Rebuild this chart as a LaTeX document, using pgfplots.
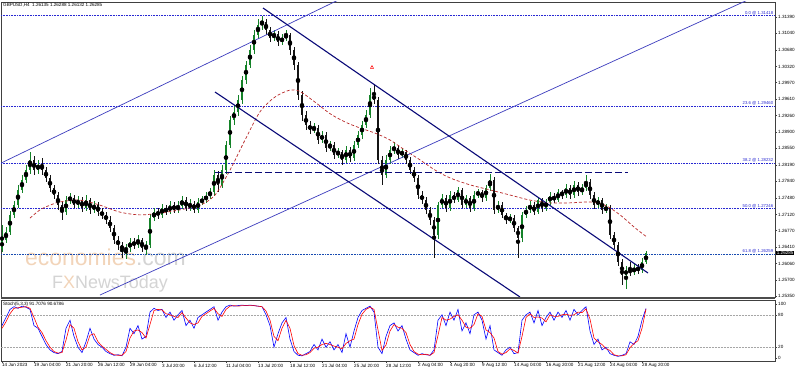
\documentclass[border=0pt]{standalone}
\usepackage{pgfplots}
\pgfplotsset{compat=1.18}
\usepackage{pgfplotstable}
\usepackage{fontspec}
\setmainfont{Liberation Sans}
\definecolor{chanD}{RGB}{10,10,120}
\definecolor{chanA}{RGB}{60,60,190}
\definecolor{fibc}{RGB}{40,40,210}
\definecolor{maC}{RGB}{185,40,40}
\definecolor{upc}{RGB}{20,130,40}
\definecolor{dnc}{RGB}{20,20,20}
\definecolor{wmO}{RGB}{242,212,185}
\definecolor{wmG}{RGB}{212,212,212}
\newcommand{\sm}{\fontsize{4.6}{5}\selectfont}

\pgfplotstableread{
b o h l c
0 1.2638 1.2690 1.2630 1.2657
2 1.2657 1.2685 1.2650 1.2674
4 1.2674 1.2720 1.2668 1.2711
6 1.2711 1.2742 1.2704 1.2732
8 1.2732 1.2776 1.2725 1.2765
10 1.2765 1.2797 1.2758 1.2786
12 1.2786 1.2819 1.2780 1.2808
14 1.2808 1.2848 1.2800 1.2830
16 1.2830 1.2838 1.2797 1.2808
18 1.2808 1.2830 1.2800 1.2819
20 1.2819 1.2835 1.2798 1.2808
22 1.2808 1.2815 1.2782 1.2791
24 1.2791 1.2798 1.2760 1.2769
26 1.2769 1.2776 1.2745 1.2754
28 1.2754 1.2760 1.2722 1.2732
30 1.2732 1.2740 1.2700 1.2717
32 1.2717 1.2752 1.2710 1.2743
34 1.2743 1.2758 1.2735 1.2748
36 1.2748 1.2755 1.2725 1.2732
38 1.2732 1.2752 1.2726 1.2743
40 1.2743 1.2750 1.2718 1.2726
42 1.2726 1.2755 1.2720 1.2743
44 1.2743 1.2748 1.2712 1.2722
46 1.2722 1.2742 1.2715 1.2732
48 1.2732 1.2738 1.2708 1.2717
50 1.2717 1.2725 1.2702 1.2711
52 1.2711 1.2718 1.2692 1.2700
54 1.2700 1.2708 1.2675 1.2683
56 1.2683 1.2690 1.2648 1.2657
58 1.2657 1.2665 1.2636 1.2646
60 1.2646 1.2652 1.2618 1.2635
62 1.2635 1.2648 1.2615 1.2639
64 1.2639 1.2662 1.2630 1.2652
66 1.2652 1.2660 1.2638 1.2646
68 1.2646 1.2668 1.2640 1.2657
70 1.2657 1.2662 1.2630 1.2639
72 1.2639 1.2655 1.2625 1.2646
74 1.2646 1.2712 1.2640 1.2704
76 1.2704 1.2725 1.2698 1.2717
78 1.2717 1.2726 1.2703 1.2711
80 1.2711 1.2735 1.2705 1.2726
82 1.2726 1.2733 1.2710 1.2717
84 1.2717 1.2740 1.2712 1.2732
86 1.2732 1.2738 1.2715 1.2722
88 1.2722 1.2740 1.2716 1.2730
90 1.2730 1.2752 1.2724 1.2743
92 1.2743 1.2750 1.2720 1.2726
94 1.2726 1.2745 1.2720 1.2735
96 1.2735 1.2742 1.2715 1.2722
98 1.2722 1.2748 1.2716 1.2739
100 1.2739 1.2752 1.2732 1.2743
102 1.2743 1.2760 1.2736 1.2752
104 1.2752 1.2770 1.2745 1.2760
106 1.2760 1.2808 1.2752 1.2797
108 1.2797 1.2805 1.2760 1.2776
110 1.2776 1.2820 1.2770 1.2808
112 1.2808 1.2870 1.2800 1.2862
114 1.2862 1.2925 1.2855 1.2916
116 1.2916 1.2948 1.2905 1.2934
118 1.2934 1.2970 1.2925 1.2960
120 1.2960 1.3012 1.2952 1.3003
122 1.3003 1.3045 1.2995 1.3035
124 1.3035 1.3078 1.3028 1.3068
126 1.3068 1.3110 1.3060 1.3100
128 1.3100 1.3135 1.3092 1.3122
130 1.3122 1.3142 1.3112 1.3128
132 1.3128 1.3135 1.3100 1.3111
134 1.3111 1.3118 1.3085 1.3094
136 1.3094 1.3112 1.3088 1.3102
138 1.3102 1.3108 1.3076 1.3085
140 1.3085 1.3102 1.3078 1.3094
142 1.3094 1.3112 1.3088 1.3100
144 1.3100 1.3105 1.3058 1.3068
146 1.3068 1.3075 1.3025 1.3035
148 1.3035 1.3042 1.2960 1.2970
150 1.2970 1.2978 1.2915 1.2927
152 1.2927 1.2935 1.2895 1.2905
154 1.2905 1.2915 1.2885 1.2895
156 1.2895 1.2910 1.2888 1.2899
158 1.2899 1.2905 1.2865 1.2873
160 1.2873 1.2892 1.2866 1.2884
162 1.2884 1.2890 1.2848 1.2856
164 1.2856 1.2872 1.2850 1.2862
166 1.2862 1.2868 1.2832 1.2841
168 1.2841 1.2856 1.2835 1.2847
170 1.2847 1.2852 1.2820 1.2830
172 1.2830 1.2860 1.2824 1.2851
174 1.2851 1.2858 1.2826 1.2834
176 1.2834 1.2870 1.2828 1.2862
178 1.2862 1.2892 1.2855 1.2884
180 1.2884 1.2914 1.2876 1.2905
182 1.2905 1.2938 1.2898 1.2927
184 1.2927 1.2985 1.2920 1.2970
186 1.2970 1.2995 1.2950 1.2960
188 1.2960 1.2966 1.2822 1.2830
190 1.2830 1.2838 1.2776 1.2797
192 1.2797 1.2840 1.2790 1.2830
194 1.2830 1.2860 1.2822 1.2851
196 1.2851 1.2868 1.2842 1.2856
198 1.2856 1.2862 1.2832 1.2841
200 1.2841 1.2856 1.2834 1.2847
202 1.2847 1.2852 1.2822 1.2830
204 1.2830 1.2836 1.2800 1.2808
206 1.2808 1.2815 1.2782 1.2791
208 1.2791 1.2798 1.2745 1.2754
210 1.2754 1.2762 1.2735 1.2743
212 1.2743 1.2750 1.2712 1.2722
214 1.2722 1.2728 1.2690 1.2700
216 1.2700 1.2706 1.2618 1.2668
218 1.2668 1.2740 1.2660 1.2732
220 1.2732 1.2756 1.2725 1.2748
222 1.2748 1.2754 1.2718 1.2726
224 1.2726 1.2762 1.2720 1.2754
226 1.2754 1.2760 1.2736 1.2743
228 1.2743 1.2772 1.2738 1.2765
230 1.2765 1.2770 1.2725 1.2732
232 1.2732 1.2755 1.2726 1.2748
234 1.2748 1.2752 1.2718 1.2726
236 1.2726 1.2762 1.2720 1.2754
238 1.2754 1.2768 1.2748 1.2760
240 1.2760 1.2765 1.2740 1.2748
242 1.2748 1.2776 1.2742 1.2769
244 1.2769 1.2800 1.2762 1.2786
246 1.2786 1.2792 1.2714 1.2722
248 1.2722 1.2740 1.2716 1.2732
250 1.2732 1.2738 1.2704 1.2711
252 1.2711 1.2716 1.2692 1.2700
254 1.2700 1.2712 1.2694 1.2704
256 1.2704 1.2710 1.2675 1.2683
258 1.2683 1.2688 1.2618 1.2661
260 1.2661 1.2718 1.2652 1.2711
262 1.2711 1.2730 1.2705 1.2722
264 1.2722 1.2740 1.2716 1.2732
266 1.2732 1.2738 1.2710 1.2717
268 1.2717 1.2750 1.2712 1.2743
270 1.2743 1.2748 1.2718 1.2726
272 1.2726 1.2746 1.2720 1.2739
274 1.2739 1.2760 1.2732 1.2752
276 1.2752 1.2758 1.2736 1.2743
278 1.2743 1.2768 1.2738 1.2760
280 1.2760 1.2766 1.2746 1.2754
282 1.2754 1.2778 1.2748 1.2769
284 1.2769 1.2775 1.2746 1.2754
286 1.2754 1.2784 1.2748 1.2776
288 1.2776 1.2782 1.2752 1.2760
290 1.2760 1.2778 1.2754 1.2769
292 1.2769 1.2798 1.2762 1.2782
294 1.2782 1.2788 1.2746 1.2754
296 1.2754 1.2760 1.2724 1.2732
298 1.2732 1.2750 1.2726 1.2743
300 1.2743 1.2748 1.2714 1.2722
302 1.2722 1.2734 1.2716 1.2726
304 1.2726 1.2732 1.2660 1.2668
306 1.2668 1.2675 1.2638 1.2646
308 1.2646 1.2652 1.2600 1.2609
310 1.2609 1.2615 1.2560 1.2581
312 1.2581 1.2600 1.2550 1.2592
314 1.2592 1.2610 1.2578 1.2587
316 1.2587 1.2605 1.2580 1.2596
318 1.2596 1.2604 1.2584 1.2592
320 1.2592 1.2618 1.2586 1.2609
322 1.2609 1.2632 1.2604 1.2628
}\candles

\pgfplotstableread{
b k d
0 60 55
2 75 67
4 90 82
6 95 92
8 92 93
10 96 94
12 94 95
14 90 92
16 60 75
18 55 57
20 40 47
22 25 32
24 15 20
26 10 12
28 8 9
30 12 10
32 55 33
34 70 62
36 40 55
38 20 30
40 10 15
42 30 20
44 55 42
46 35 45
48 25 30
50 20 22
52 12 16
54 8 10
56 5 6
58 6 5
60 4 5
62 20 12
64 55 37
66 45 50
68 60 52
70 35 47
72 40 37
74 85 62
76 92 88
78 88 90
80 90 89
82 75 82
84 85 80
86 70 77
88 80 75
90 88 84
92 60 74
94 70 65
96 55 62
98 75 65
100 80 77
102 85 82
104 90 87
106 95 92
108 70 82
110 85 77
112 95 90
114 98 96
116 96 97
118 97 96
120 98 97
122 97 97
124 98 97
126 97 97
128 96 96
130 95 95
132 80 87
134 60 70
136 20 40
138 45 32
140 65 55
142 75 70
144 35 55
146 12 23
148 5 8
150 4 5
152 8 6
154 12 10
156 25 18
158 15 20
160 35 25
162 20 27
164 30 25
166 15 22
168 25 20
170 10 17
172 45 27
174 20 32
176 50 35
178 75 62
180 88 81
182 92 90
184 96 94
186 85 90
188 20 52
190 8 14
192 40 24
194 60 50
196 65 62
198 50 57
200 60 55
202 35 47
204 15 25
206 10 12
208 5 7
210 8 6
212 6 7
214 5 5
216 15 10
218 70 42
220 80 75
222 60 70
224 85 72
226 70 77
228 90 80
230 50 70
232 65 57
234 45 55
236 80 62
238 85 82
240 70 77
242 35 52
244 60 47
246 15 37
248 10 12
250 5 7
252 15 10
254 20 17
256 8 14
258 10 9
260 70 40
262 80 75
264 85 82
266 65 75
268 88 76
270 60 74
272 75 67
274 85 80
276 70 77
278 85 77
280 75 80
282 88 81
284 70 79
286 90 80
288 80 85
290 88 84
292 95 91
294 50 72
296 25 37
298 35 30
300 15 25
302 20 17
304 8 14
306 5 6
308 3 4
310 5 4
312 8 6
314 30 19
316 25 27
318 40 32
320 70 55
322 91.7 90.7
}\stoch

\begin{document}
\begin{tikzpicture}
\useasboundingbox (0,0) rectangle (798bp,-372bp);
\fill[white] (0,0) rectangle (798bp,-372bp);
\begin{axis}[
  at={(1bp,-2bp)}, anchor=north west, scale only axis,
  width=774bp, height=295bp,
  xmin=-0.5, xmax=386.5, ymin=1.25334, ymax=1.31715,
  xtick=\empty,
  ytick={1.2535,1.257,1.2606,1.2641,1.2677,1.2712,1.2748,1.2784,1.2819,1.2855,1.289,1.2926,1.2961,1.2997,1.3032,1.3068,1.3104,1.3139},
  ytick pos=right, yticklabel pos=right, tick align=outside,
  major tick length=2bp, scaled y ticks=false,
  yticklabel style={font=\sm, anchor=west, inner sep=1bp,
    /pgf/number format/.cd, fixed, fixed zerofill, precision=5, assume math mode=true},
  axis line style={black!75, line width=0.5bp},
  tick style={black!75, line width=0.4bp},
]
% watermark
\node[anchor=west, inner sep=0, font=\fontsize{23}{23}\selectfont] at (axis cs:11.5,1.2619) {\textcolor{wmO}{economies}\textcolor{wmG}{.com}};
\node[anchor=west, inner sep=0, font=\fontsize{18}{18}\selectfont] at (axis cs:25,1.2561) {\textcolor{wmG}{F}\textcolor{wmO}{X}\textcolor{wmG}{NewsToday}};
% fibonacci levels
\addplot[fibc, densely dotted, line width=0.6bp] coordinates {(-0.5,1.31418) (386.5,1.31418)};
\addplot[fibc, densely dotted, line width=0.6bp] coordinates {(-0.5,1.29460) (386.5,1.29460)};
\addplot[fibc, densely dotted, line width=0.6bp] coordinates {(-0.5,1.28232) (386.5,1.28232)};
\addplot[fibc, densely dotted, line width=0.6bp] coordinates {(-0.5,1.27246) (386.5,1.27246)};
\addplot[fibc!60!teal, densely dotted, line width=0.6bp] coordinates {(-0.5,1.26259) (386.5,1.26259)};
% candles: wicks and bodies
\addplot[only marks, mark=none, forget plot,
  restrict expr to domain={\thisrow{c}-\thisrow{o}}{0:1},
  error bars/.cd, y dir=both, y explicit, error mark=none,
  error bar style={line width=0.6bp, upc}]
  table[x=b, y expr={(\thisrow{h}+\thisrow{l})/2}, y error expr={(\thisrow{h}-\thisrow{l})/2}] {\candles};
\addplot[only marks, mark=none, forget plot,
  restrict expr to domain={\thisrow{c}-\thisrow{o}}{-1:-0.00001},
  error bars/.cd, y dir=both, y explicit, error mark=none,
  error bar style={line width=0.6bp, dnc}]
  table[x=b, y expr={(\thisrow{h}+\thisrow{l})/2}, y error expr={(\thisrow{h}-\thisrow{l})/2}] {\candles};
\addplot[only marks, mark=none, forget plot,
  restrict expr to domain={\thisrow{c}-\thisrow{o}}{0:1},
  error bars/.cd, y dir=both, y explicit, error mark=none,
  error bar style={line width=2.6bp, upc}]
  table[x=b, y expr={(\thisrow{o}+\thisrow{c})/2}, y error expr={max(abs(\thisrow{c}-\thisrow{o})/2,0.00004)}] {\candles};
\addplot[only marks, mark=none, forget plot,
  restrict expr to domain={\thisrow{c}-\thisrow{o}}{-1:-0.00001},
  error bars/.cd, y dir=both, y explicit, error mark=none,
  error bar style={line width=2.6bp, dnc}]
  table[x=b, y expr={(\thisrow{o}+\thisrow{c})/2}, y error expr={max(abs(\thisrow{c}-\thisrow{o})/2,0.00004)}] {\candles};
% moving average
\addplot[maC, line width=0.7bp, dash pattern=on 3bp off 2bp, smooth] coordinates {
(14,1.2704) (19,1.2722) (24,1.2732) (29,1.2739) (39,1.2743) (49,1.2732) (59,1.2717)
(69,1.2711) (79,1.2715) (89,1.2722) (99,1.2732) (106.5,1.2754) (114,1.2808)
(121.5,1.2873) (129,1.2934) (136.5,1.2966) (144,1.2981) (149,1.2978) (156.5,1.2955)
(164,1.2930) (171.5,1.2912) (179,1.2899) (186.5,1.2888) (194,1.2873) (201.5,1.2851)
(209,1.2830) (216.5,1.2808) (224,1.2791) (234,1.2776) (244,1.2765) (254,1.2754)
(264,1.2743) (274,1.2737) (284,1.2737) (294,1.2739) (301.5,1.2732) (309,1.2711)
(316.5,1.2683) (322.5,1.2663)};
% channels
\addplot[chanA, line width=0.7bp] coordinates {(-0.5,1.2823) (174,1.3188)};
\addplot[chanA, line width=0.7bp] coordinates {(49,1.25377) (379,1.3188)};
\addplot[chanD, line width=1.1bp] coordinates {(130.5,1.31585) (323,1.25853)};
\addplot[chanD, line width=1.1bp] coordinates {(106.5,1.29768) (259,1.25334)};
\addplot[chanD, line width=0.8bp, dash pattern=on 7bp off 3bp] coordinates {(106.5,1.2804) (313,1.2804)};
% fractal marker
\addplot[only marks, mark=triangle, mark size=1.8bp, mark options={red, line width=0.5bp}] coordinates {(185,1.3030)};
% fib labels
\node[anchor=south east, font=\fontsize{4.3}{4.5}\selectfont, text=fibc, inner sep=0.6bp] at (axis cs:386,1.31418) {0.0 @ 1.31418};
\node[anchor=south east, font=\fontsize{4.3}{4.5}\selectfont, text=fibc, inner sep=0.6bp] at (axis cs:386,1.29460) {23.6 @ 1.29460};
\node[anchor=south east, font=\fontsize{4.3}{4.5}\selectfont, text=fibc, inner sep=0.6bp] at (axis cs:386,1.28232) {38.2 @ 1.28232};
\node[anchor=south east, font=\fontsize{4.3}{4.5}\selectfont, text=fibc, inner sep=0.6bp] at (axis cs:386,1.27246) {50.0 @ 1.27246};
\node[anchor=south east, font=\fontsize{4.3}{4.5}\selectfont, text=fibc, inner sep=0.6bp] at (axis cs:386,1.26259) {61.8 @ 1.26259};
\end{axis}
\draw[black!70, line width=2.2bp] (1bp,-298.2bp) -- (775bp,-298.2bp);
\begin{axis}[
  at={(1bp,-300bp)}, anchor=north west, scale only axis,
  width=774bp, height=61bp,
  xmin=-0.5, xmax=386.5, ymin=-5.6, ymax=107.4,
  xtick={0,16,...,320},
  xticklabels={14 Jun 2023,19 Jun 04:00,21 Jun 20:00,26 Jun 12:00,29 Jun 04:00,3 Jul 20:00,6 Jul 12:00,11 Jul 04:00,13 Jul 20:00,18 Jul 12:00,21 Jul 04:00,25 Jul 20:00,28 Jul 12:00,2 Aug 04:00,4 Aug 20:00,9 Aug 12:00,14 Aug 04:00,16 Aug 20:00,21 Aug 12:00,24 Aug 04:00,28 Aug 20:00},
  xtick pos=bottom,
  xticklabel style={font=\sm, anchor=north west, inner sep=0.5bp, xshift=-0.5bp},
  ytick={0,20,80,100},
  ytick pos=right, yticklabel pos=right, tick align=outside,
  major tick length=2bp,
  yticklabel style={font=\sm, anchor=west, inner sep=1bp, /pgf/number format/assume math mode=true},
  axis line style={black!75, line width=0.5bp},
  tick style={black!75, line width=0.4bp},
]
\addplot[black!35, densely dotted, line width=0.5bp] coordinates {(-0.5,20) (386.5,20)};
\addplot[black!35, densely dotted, line width=0.5bp] coordinates {(-0.5,80) (386.5,80)};
\addplot[blue, line width=0.6bp] table[x=b, y=k] {\stoch};
\addplot[red, line width=0.6bp] table[x=b, y=d] {\stoch};
\end{axis}
\node[anchor=north west, font=\sm, inner sep=0] at (3bp,-302bp) {Stoch(5,3,3) 91.7076 90.6786};
\node[anchor=north west, font=\sm, inner sep=0] at (3bp,-3.5bp) {GBPUSD,H4\ \ 1.26135 1.26288 1.26132 1.26285};
\node[anchor=west, font=\sm, fill=black, text=white, inner sep=0.7bp] at (776bp,-253bp) {1.26285};
\end{tikzpicture}
\end{document}
